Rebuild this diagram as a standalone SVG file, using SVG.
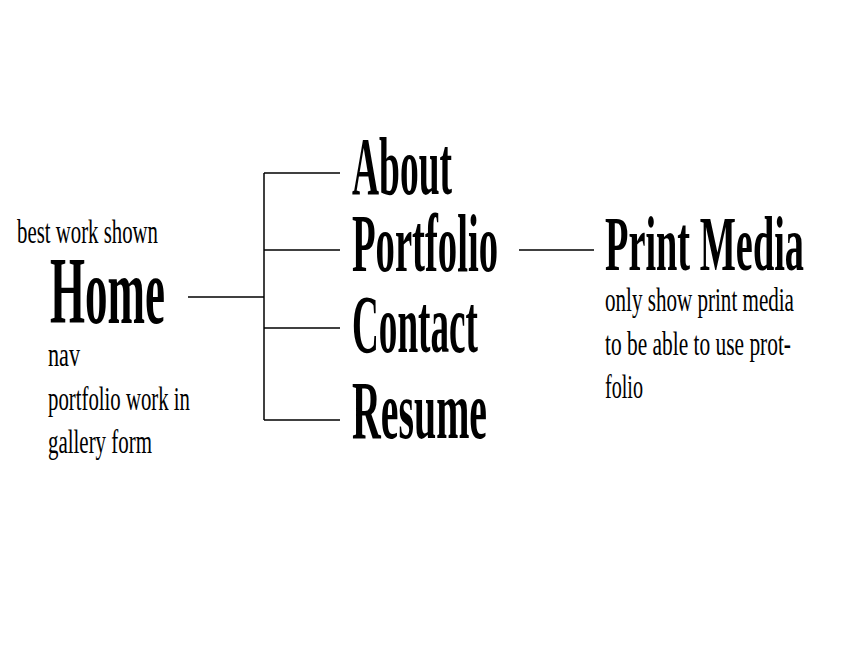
<svg xmlns="http://www.w3.org/2000/svg" width="864" height="648" viewBox="0 0 864 648">
<style>
.big{font-family:"Liberation Serif","Times New Roman",serif;font-weight:bold;fill:#000}
.small{font-family:"Liberation Serif","Times New Roman",serif;font-size:33px;fill:#000}
.conn{stroke:#000;stroke-width:1.5;fill:none}
</style>
<rect width="864" height="648" fill="#fff"/>
<g id="connectors">
<line class="conn" x1="188" y1="297" x2="264" y2="297"/>
<line class="conn" x1="264" y1="173" x2="264" y2="420"/>
<line class="conn" x1="264" y1="173" x2="340" y2="173"/>
<line class="conn" x1="264" y1="250" x2="340" y2="250"/>
<line class="conn" x1="264" y1="328" x2="340" y2="328"/>
<line class="conn" x1="264" y1="420" x2="340" y2="420"/>
<line class="conn" x1="519" y1="250" x2="594" y2="250"/>
</g>
<g id="home">
<text class="small" transform="translate(17,243) scale(0.63,1)" textLength="223.8" lengthAdjust="spacingAndGlyphs">best work shown</text>
<text class="big" transform="translate(50,323) scale(0.474,1)" font-size="95" textLength="242.6" lengthAdjust="spacingAndGlyphs">Home</text>
<text class="small" transform="translate(48,366) scale(0.67,1)" textLength="47.8" lengthAdjust="spacingAndGlyphs">nav</text>
<text class="small" transform="translate(48,410) scale(0.63,1)" textLength="225.4" lengthAdjust="spacingAndGlyphs">portfolio work in</text>
<text class="small" transform="translate(48,453) scale(0.634,1)" textLength="164" lengthAdjust="spacingAndGlyphs">gallery form</text>
</g>
<g id="about">
<text class="big" transform="translate(352,194) scale(0.457,1)" font-size="82" textLength="218.8" lengthAdjust="spacingAndGlyphs">About</text>
</g>
<g id="portfolio">
<text class="big" transform="translate(352,271) scale(0.471,1)" font-size="82" textLength="310" lengthAdjust="spacingAndGlyphs">Portfolio</text>
</g>
<g id="contact">
<text class="big" transform="translate(352,352) scale(0.454,1)" font-size="82" textLength="277.5" lengthAdjust="spacingAndGlyphs">Contact</text>
</g>
<g id="resume">
<text class="big" transform="translate(352,438) scale(0.486,1)" font-size="82" textLength="277.8" lengthAdjust="spacingAndGlyphs">Resume</text>
</g>
<g id="print-media">
<text class="big" transform="translate(605,270) scale(0.485,1)" font-size="79" textLength="410.3" lengthAdjust="spacingAndGlyphs">Print Media</text>
<text class="small" transform="translate(605,311) scale(0.638,1)" textLength="296.2" lengthAdjust="spacingAndGlyphs">only show print media</text>
<text class="small" transform="translate(605,355) scale(0.648,1)" textLength="287" lengthAdjust="spacingAndGlyphs">to be able to use prot-</text>
<text class="small" transform="translate(605,398) scale(0.61,1)" textLength="62.3" lengthAdjust="spacingAndGlyphs">folio</text>
</g>
</svg>
